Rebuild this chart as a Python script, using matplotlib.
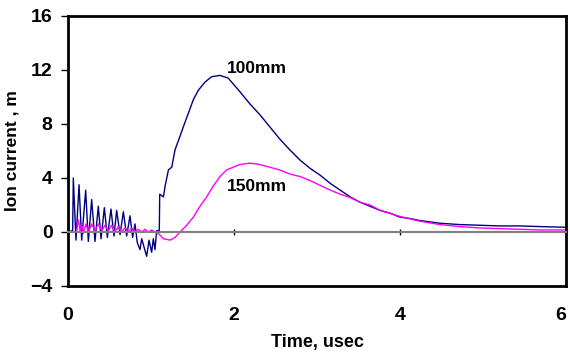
import matplotlib.pyplot as plt
import numpy as np

plt.rcParams['font.family'] = ['Liberation Sans', 'DejaVu Sans']
plt.rcParams['font.weight'] = 'bold'

# 100mm trace
t_100 = np.array([0.0, 0.056, 0.064, 0.096, 0.133, 0.165, 0.213, 0.245, 0.285, 0.325,
                  0.365, 0.398, 0.438, 0.474, 0.518, 0.554, 0.586, 0.627, 0.667, 0.707,
                  0.747, 0.779, 0.807, 0.835, 0.867, 0.888, 0.920, 0.948, 0.976, 1.008,
                  1.028, 1.048, 1.068, 1.100, 1.105, 1.15, 1.17, 1.21, 1.25, 1.29,
                  1.35, 1.39, 1.45, 1.51, 1.57, 1.65, 1.73, 1.83, 1.93, 2.07,
                  2.19, 2.31, 2.43, 2.55, 2.67, 2.80, 2.92, 3.04, 3.16, 3.28,
                  3.40, 3.52, 3.64, 3.76, 3.88, 4.0, 4.12, 4.24, 4.48, 4.72,
                  4.96, 5.2, 5.45, 5.69, 6.0])
i_100 = np.array([0.0, 0.1, 4.0, -0.6, 3.5, -0.6, 3.1, -0.7, 2.4, -0.7,
                  1.9, -0.5, 1.8, -0.4, 1.7, -0.3, 1.6, -0.2, 1.5, -0.3,
                  1.2, -0.4, 0.6, -0.8, -1.3, -0.5, -1.2, -1.8, -0.6, -1.5,
                  -0.5, -1.3, 0.1, 0.1, 2.8, 2.6, 3.4, 4.6, 4.8, 6.1,
                  7.1, 7.8, 8.8, 9.8, 10.5, 11.1, 11.5, 11.6, 11.4, 10.4,
                  9.5, 8.7, 7.8, 6.9, 6.1, 5.3, 4.7, 4.2, 3.6, 3.1,
                  2.6, 2.2, 1.9, 1.6, 1.4, 1.1, 1.0, 0.85, 0.65, 0.55,
                  0.5, 0.45, 0.45, 0.4, 0.35])

# 150mm trace
t_150 = np.array([0.0, 0.10, 0.125, 0.145, 0.165, 0.185, 0.217, 0.245, 0.285, 0.325,
                  0.365, 0.406, 0.446, 0.486, 0.526, 0.566, 0.606, 0.647, 0.687, 0.727,
                  0.767, 0.807, 0.847, 0.888, 0.928, 0.968, 1.008, 1.048, 1.088, 1.15,
                  1.23, 1.29, 1.35, 1.43, 1.51, 1.59, 1.67, 1.75, 1.83, 1.91,
                  2.07, 2.19, 2.31, 2.43, 2.55, 2.67, 2.80, 2.92, 3.04, 3.16,
                  3.28, 3.40, 3.52, 3.64, 3.76, 4.0, 4.24, 4.48, 4.72, 4.96,
                  5.2, 5.45, 5.69, 6.0])
i_150 = np.array([0.0, 0.0, 0.9, 0.1, 0.6, -0.1, 0.6, 0.0, 0.6, 0.1,
                  0.6, 0.1, 0.5, 0.1, 0.5, 0.0, 0.4, 0.0, 0.3, 0.0,
                  0.3, 0.0, 0.2, 0.0, 0.2, 0.0, 0.15, 0.0, -0.1, -0.5,
                  -0.6, -0.4, 0.0, 0.5, 1.1, 1.9, 2.6, 3.4, 4.1, 4.6,
                  5.0, 5.1, 5.0, 4.8, 4.6, 4.3, 4.1, 3.8, 3.45, 3.1,
                  2.8, 2.55, 2.2, 2.0, 1.6, 1.15, 0.8, 0.55, 0.4, 0.3,
                  0.25, 0.2, 0.15, 0.15])

x_ticks = [0, 2, 4, 6]
y_ticks = [-4, 0, 4, 8, 12, 16]

fig = plt.figure(figsize=(5.7, 3.54), dpi=100)
ax = fig.add_axes([68 / 570, 68 / 354, 498 / 570, 270 / 354])

ax.plot(t_100, i_100, color='#000080', lw=1.0)
ax.plot(t_150, i_150, color='#FF00FF', lw=1.0)

ax.set_xlim(0, 6)
ax.set_ylim(-4, 16)

# zero line acts as the x axis, labels sit at the bottom of the frame
ax.spines['bottom'].set_position(('data', 0))
ax.spines['bottom'].set_color('#808080')
ax.spines['bottom'].set_linewidth(1.5)
ax.set_xticks(x_ticks)
ax.tick_params(axis='x', direction='inout', length=5, width=1, color='black',
               labelbottom=False)
for s in ['top', 'right', 'left']:
    ax.spines[s].set_linewidth(2)

sec = ax.secondary_xaxis('bottom')
sec.spines['bottom'].set_linewidth(2)
sec.set_xticks(x_ticks)
sec.tick_params(length=0, pad=15, labelsize=14)
sec.get_xticklabels()[-1].set_horizontalalignment('right')
sec.set_xlabel('Time, usec', fontsize=13, fontweight='bold', labelpad=7)

ax.set_yticks(y_ticks)
ax.tick_params(axis='y', direction='out', length=5, width=1, labelsize=14, pad=6)
ax.set_ylabel('Ion current , m', fontsize=12.5, fontweight='bold', labelpad=4)
ax.yaxis.set_label_coords(-0.098, 0.5)

ax.text(1.91, 12.1, '100mm', fontsize=12.5, fontweight='bold', va='center')
ax.text(1.91, 3.35, '150mm', fontsize=12.5, fontweight='bold', va='center')

fig.savefig('out.png', dpi=100)
